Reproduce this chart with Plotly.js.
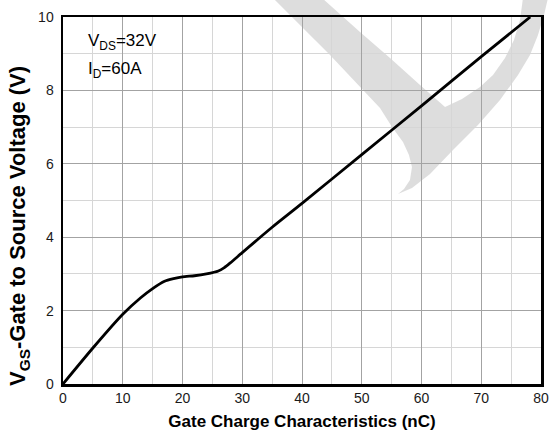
<!DOCTYPE html>
<html>
<head>
<meta charset="utf-8">
<script src="https://cdn.plot.ly/plotly-3.0.1.min.js"></script>
<style>
  html, body { margin: 0; padding: 0; background: #ffffff; }
  #chart { width: 551px; height: 436px; }
</style>
</head>
<body>
<div id="chart"></div>
<script>
// Gate charge curve: total gate charge (nC) vs gate-source voltage (V)
const gateCharge = [0, 5, 10, 13, 15, 17, 18.5, 20, 22, 24, 26, 27, 28, 30, 35, 40, 50, 60, 70, 78.2];
const gateVoltage = [0, 0.98, 1.9, 2.35, 2.6, 2.8, 2.87, 2.92, 2.95, 3.0, 3.08, 3.17, 3.3, 3.58, 4.27, 4.92, 6.25, 7.58, 8.92, 10];

// Axis tick labels
const xTicks = [0, 10, 20, 30, 40, 50, 60, 70, 80];
const yTicks = [0, 2, 4, 6, 8, 10];

// Axis titles
const xTitle = 'Gate Charge Characteristics (nC)';
const yTitle = 'V<sub>GS</sub>-Gate to Source Voltage (V)';

// Test conditions printed inside the plot
const conditionLines = ['V<sub>DS</sub>=32V', 'I<sub>D</sub>=60A'];

const W = 551, H = 436;
const M = { l: 63, r: 10, t: 17, b: 52 };

// Convert figure pixel coordinates to paper coordinates
function px(x) { return (x - M.l) / (W - M.l - M.r); }
function py(y) { return (H - M.b - y) / (H - M.t - M.b); }
function pathFrom(pts) {
  return pts.map((p, i) => (i === 0 ? 'M' : 'L') + px(p[0]).toFixed(4) + ',' + py(p[1]).toFixed(4)).join(' ') + ' Z';
}

// Light grey logo mark, translucent so the grid stays visible
const logo = [
  [273, -2], [300, 25], [330, 55], [363, 90], [380, 108], [392, 127], [403, 142],
  [409, 155], [412, 167], [410, 180], [404, 189], [398, 194],
  [412, 188], [430, 174], [453, 150], [478, 125], [500, 100], [518, 75],
  [530, 55], [538, 35], [544, 15], [548, -2],
  [523, -2], [520, 20], [514, 40], [505, 58], [493, 75], [480, 87], [462, 99], [445, 107],
  [420, 85], [390, 58], [360, 32], [322, -2]
];

const trace = {
  x: gateCharge,
  y: gateVoltage,
  type: 'scatter',
  mode: 'lines',
  line: { color: '#000000', width: 2.8, shape: 'spline', smoothing: 0.6 },
  hoverinfo: 'skip'
};

const FAMILY = 'Liberation Sans, Arial, sans-serif';
const tickFont = { family: FAMILY, size: 14, color: '#1a1a1a' };

const layout = {
  width: W,
  height: H,
  margin: M,
  paper_bgcolor: '#ffffff',
  plot_bgcolor: '#ffffff',
  showlegend: false,
  xaxis: {
    range: [0, 80],
    tickvals: xTicks,
    ticktext: xTicks.map(String),
    ticks: '',
    showgrid: true,
    gridcolor: '#a3a3a3',
    gridwidth: 1,
    minor: { dtick: 5, showgrid: true, gridcolor: '#d6d6d6', gridwidth: 1, ticks: '' },
    zeroline: false,
    showline: true,
    linecolor: '#000000',
    linewidth: 2.5,
    mirror: true,
    tickfont: tickFont,
    title: { text: '<b>' + xTitle + '</b>', font: { family: FAMILY, size: 17, color: '#000000' }, standoff: 10 }
  },
  yaxis: {
    range: [0, 10],
    tickvals: yTicks,
    ticktext: yTicks.map(String),
    ticks: '',
    showgrid: true,
    gridcolor: '#a3a3a3',
    gridwidth: 1,
    minor: { dtick: 1, showgrid: true, gridcolor: '#d6d6d6', gridwidth: 1, ticks: '' },
    zeroline: false,
    showline: true,
    linecolor: '#000000',
    linewidth: 2.5,
    mirror: true,
    tickfont: tickFont,
    ticklabelstandoff: 4
  },
  shapes: [
    {
      type: 'path',
      xref: 'paper',
      yref: 'paper',
      path: pathFrom(logo),
      fillcolor: 'rgba(119,119,119,0.25)',
      line: { width: 0 },
      layer: 'between'
    },
    {
      // white panel behind the test conditions
      type: 'rect',
      xref: 'paper',
      yref: 'paper',
      x0: px(75), x1: px(166),
      y0: py(85), y1: py(25),
      fillcolor: '#ffffff',
      line: { width: 0 },
      layer: 'between'
    }
  ],
  annotations: conditionLines.map((t, i) => ({
    xref: 'paper',
    yref: 'paper',
    x: px(86),
    y: py(42 + i * 28),
    xanchor: 'left',
    yanchor: 'middle',
    align: 'left',
    showarrow: false,
    text: t,
    font: { family: FAMILY, size: 17, color: '#000000' }
  })).concat([{
    // vertical axis title, sitting slightly below the plot's mid-height
    xref: 'paper',
    yref: 'paper',
    x: px(19),
    y: py(226),
    xanchor: 'center',
    yanchor: 'middle',
    textangle: -90,
    showarrow: false,
    text: '<b>' + yTitle + '</b>',
    font: { family: FAMILY, size: 22, color: '#000000' }
  }])
};

Plotly.newPlot('chart', [trace], layout, { staticPlot: true, displayModeBar: false });
</script>
</body>
</html>
